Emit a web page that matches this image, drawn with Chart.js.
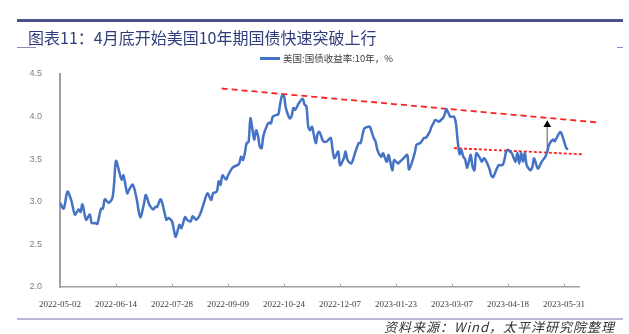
<!DOCTYPE html>
<html>
<head>
<meta charset="utf-8">
<script src="https://cdn.jsdelivr.net/npm/chart.js@4"></script>
<style>
  body { margin: 0; background: #fff; }
  #wrap { position: relative; width: 629px; height: 334px; overflow: hidden; font-family: "Noto Sans CJK SC", sans-serif; }
  #wrap canvas { position: absolute; left: 0; top: 0; }
  .rule { position: absolute; }
  #title { position: absolute; left: 28px; top: 27px; font-size: 16px; line-height: 20px; color: #2f3d7c; white-space: nowrap; }
  #legend { position: absolute; left: 260px; top: 51px; font-size: 9.5px; line-height: 14px; color: #404040; white-space: nowrap; }
  #legend span { display: inline-block; width: 20px; height: 2.5px; background: #4472c4; vertical-align: middle; margin-right: 3px; margin-top: -2px; }
  #source { position: absolute; right: 14px; top: 318px; font-size: 13px; line-height: 18px; font-style: italic; color: #333; letter-spacing: 1px; white-space: nowrap; }
</style>
</head>
<body>
<div id="wrap">
  <canvas id="chart" width="629" height="334"></canvas>
  <div class="rule" style="left:17px;top:19px;width:606px;height:2.5px;background:#4e5189;"></div>
  <div id="title">图表11：4月底开始美国10年期国债快速突破上行</div>
  <div class="rule" style="left:17px;top:47px;width:19px;height:1px;background:#8a8ac0;"></div>
  <div class="rule" style="left:617px;top:47px;width:6px;height:1px;background:#8a8ac0;"></div>
  <div id="legend"><span></span>美国:国债收益率:10年，%</div>
  <div class="rule" style="left:17px;top:318px;width:606px;height:1.5px;background:#b8b8dc;"></div>
  <div id="source">资料来源：Wind，太平洋研究院整理</div>
</div>
<script>
// trading-day index (from 2022-05-02) and the 10Y yield
var days = [0, 2, 4, 6, 8, 10, 11, 12, 14, 16, 17, 19, 20, 22, 23, 24, 26, 28, 29, 30,
  32, 33, 34, 36, 37, 39, 41, 43, 45, 46, 48, 50, 51, 52, 54, 57, 58, 60, 61, 62,
  64, 65, 67, 68, 70, 71, 73, 75, 77, 79, 81, 82, 84, 85, 86, 87, 89, 90, 92, 93,
  95, 96, 97, 98, 99, 100, 101, 102, 103, 104, 105, 106, 107, 108, 109, 111, 112, 113, 114, 116,
  117, 118, 119, 120, 121, 123, 124, 125, 126, 128, 130, 131, 132, 133, 134, 135, 137, 138, 139, 141,
  143, 145, 146, 147, 149, 150, 152, 153, 154, 156, 158, 160, 161, 163, 165, 166, 168, 169, 170, 172,
  173, 175, 176, 178, 179, 181, 182, 184, 186, 187, 190, 191, 193, 195, 196, 198, 199, 200, 201, 203,
  204, 205, 206, 207, 209, 211, 212, 213, 214, 215, 216, 217, 218, 219, 220, 221, 222, 223, 225, 226,
  227, 228, 230, 231, 232, 234, 235, 237, 238, 239, 240, 241, 242, 244, 245, 246, 247, 248, 249, 250,
  252, 253, 254, 256, 258, 260, 261, 262, 264, 265, 266, 268, 269, 270, 271, 272];
var yields = [2.99, 2.92, 3.12, 3.02, 2.85, 2.91, 2.88, 2.97, 2.79, 2.85, 2.75, 2.75, 2.74, 2.92, 2.92, 3.03, 2.99, 3.04, 3.22, 3.48,
  3.33, 3.26, 3.31, 3.10, 3.14, 3.20, 3.04, 2.82, 2.98, 3.08, 2.96, 2.91, 2.94, 2.94, 3.03, 2.79, 2.81, 2.77, 2.67, 2.59,
  2.73, 2.69, 2.82, 2.79, 2.77, 2.83, 2.79, 2.85, 2.98, 3.10, 3.02, 3.10, 3.12, 3.24, 3.20, 3.31, 3.26, 3.31, 3.39, 3.41,
  3.43, 3.45, 3.53, 3.49, 3.57, 3.69, 3.70, 3.98, 3.86, 3.73, 3.84, 3.78, 3.65, 3.63, 3.78, 3.90, 3.93, 3.92, 4.00, 4.02,
  4.03, 4.16, 4.25, 4.24, 4.10, 3.98, 4.00, 4.10, 4.08, 4.16, 4.21, 4.14, 4.12, 3.88, 3.84, 3.88, 3.69, 3.80, 3.82, 3.71,
  3.71, 3.75, 3.61, 3.51, 3.59, 3.43, 3.51, 3.59, 3.49, 3.45, 3.57, 3.69, 3.69, 3.86, 3.88, 3.88, 3.75, 3.71, 3.61, 3.53,
  3.57, 3.47, 3.55, 3.37, 3.49, 3.45, 3.47, 3.51, 3.55, 3.38, 3.57, 3.67, 3.69, 3.75, 3.75, 3.82, 3.88, 3.92, 3.96, 3.94,
  3.96, 3.98, 4.02, 4.09, 4.00, 4.00, 3.93, 3.72, 3.56, 3.61, 3.53, 3.50, 3.40, 3.47, 3.55, 3.41, 3.37, 3.57, 3.51, 3.47,
  3.51, 3.49, 3.39, 3.31, 3.29, 3.39, 3.43, 3.43, 3.49, 3.59, 3.61, 3.59, 3.57, 3.47, 3.57, 3.45, 3.57, 3.47, 3.57, 3.43,
  3.37, 3.41, 3.51, 3.39, 3.47, 3.53, 3.59, 3.67, 3.73, 3.71, 3.75, 3.82, 3.78, 3.71, 3.64, 3.61];

var tickLabels = ['2022-05-02', '2022-06-14', '2022-07-28', '2022-09-09', '2022-10-24',
  '2022-12-07', '2023-01-23', '2023-03-07', '2023-04-18', '2023-05-31'];
var tickStep = 30;
var lastDay = 278;

// hand-drawn trend lines and the breakout arrow, in [day, yield]
var upperTrend = [[86.6, 4.33], [288.7, 3.93]];
var lowerTrend = [[211, 3.63], [280.3, 3.557]];
var breakout = [[261, 3.59], [261, 3.905]];

function toPoints(pairs) {
  return pairs.map(p => ({ x: p[0], y: p[1] }));
}

// small tick marks pointing up into the plot, like the original
var upTicks = {
  id: 'upTicks',
  afterDraw(chart) {
    var x = chart.scales.x, ctx = chart.ctx;
    ctx.save();
    ctx.strokeStyle = '#a0a0a0';
    ctx.lineWidth = 1;
    x.ticks.forEach(t => {
      var px = Math.round(x.getPixelForValue(t.value)) + 0.5;
      ctx.beginPath();
      ctx.moveTo(px, x.top);
      ctx.lineTo(px, x.top - 3);
      ctx.stroke();
    });
    ctx.restore();
  }
};

var ctx = document.getElementById('chart').getContext('2d');
new Chart(ctx, {
  type: 'line',
  data: {
    datasets: [
      {
        label: '美国:国债收益率:10年，%',
        data: days.map((d, i) => ({ x: d, y: yields[i] })),
        borderColor: '#4472c4',
        borderWidth: 2.5,
        pointRadius: 0,
        tension: 0.3,
        fill: false
      },
      {
        data: toPoints(upperTrend),
        borderColor: '#ff2020',
        borderWidth: 1.8,
        borderDash: [6, 4],
        pointRadius: 0,
        clip: false
      },
      {
        data: toPoints(lowerTrend),
        borderColor: '#ff2020',
        borderWidth: 1.8,
        borderDash: [3, 2],
        pointRadius: 0,
        clip: false
      },
      {
        data: toPoints(breakout),
        borderColor: '#8c8c8c',
        borderWidth: 1.5,
        pointRadius: [0, 4.5],
        pointStyle: 'triangle',
        pointBackgroundColor: '#000',
        pointBorderColor: '#000',
        pointBorderWidth: 0,
        clip: false
      }
    ]
  },
  options: {
    responsive: false,
    animation: false,
    layout: { padding: { left: 0, right: 50, top: 74, bottom: 27 } },
    plugins: {
      legend: { display: false },
      tooltip: { enabled: false }
    },
    scales: {
      x: {
        type: 'linear',
        min: 0,
        max: lastDay,
        grid: { display: false },
        border: { display: true, color: '#a0a0a0', width: 1.5 },
        afterBuildTicks: function (scale) {
          scale.ticks = tickLabels.map((_, i) => ({ value: i * tickStep }));
        },
        afterFit: function (scale) { scale.height = 20; },
        ticks: {
          autoSkip: false,
          maxRotation: 0,
          padding: 4,
          color: '#404040',
          font: { family: 'Liberation Serif', size: 9 },
          callback: function (v) { return tickLabels[Math.round(v / tickStep)] || ''; }
        }
      },
      y: {
        min: 2,
        max: 4.5,
        grid: { display: false },
        border: { display: true, color: '#a0a0a0', width: 2 },
        afterFit: function (scale) { scale.width = 60; },
        ticks: {
          stepSize: 0.5,
          padding: 10,
          color: '#808080',
          font: { family: 'Liberation Sans', size: 9 },
          callback: function (v) { return v.toFixed(1); }
        }
      }
    }
  },
  plugins: [upTicks]
});
</script>
</body>
</html>
